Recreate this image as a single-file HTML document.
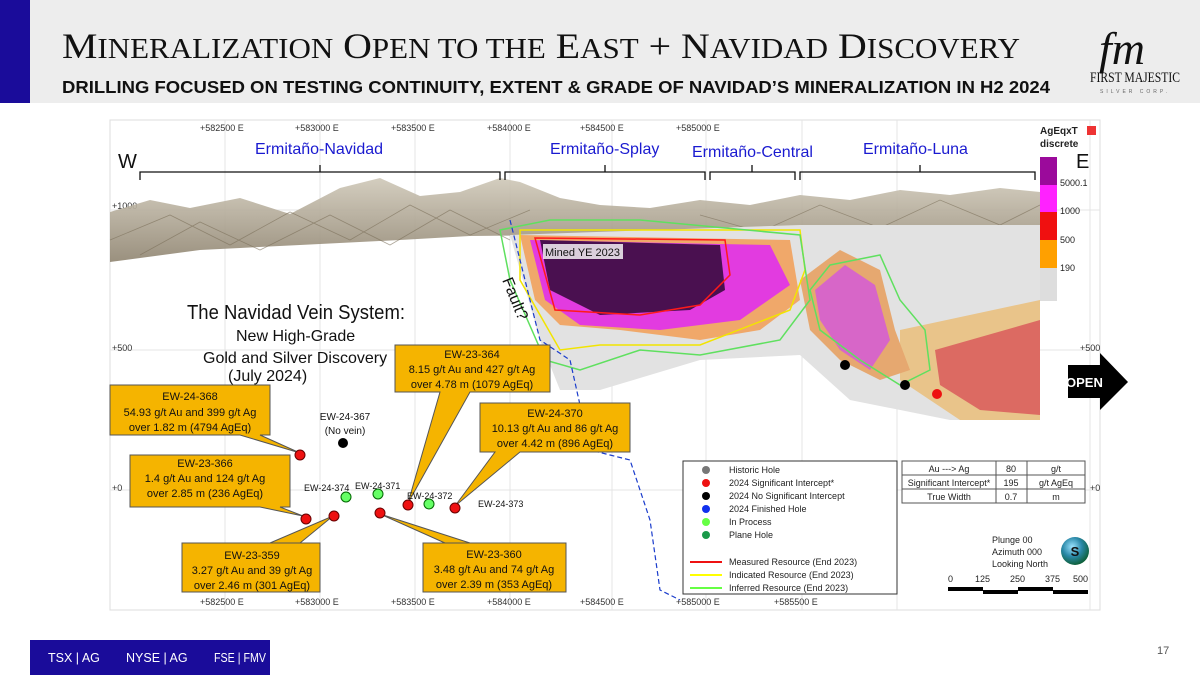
<!DOCTYPE html>
<html><head><meta charset="utf-8"><style>
body{margin:0;width:1200px;height:675px;overflow:hidden;background:#fff;font-family:"Liberation Sans",sans-serif}
</style></head><body>
<svg width="1200" height="675" xmlns="http://www.w3.org/2000/svg" font-family="Liberation Sans, sans-serif">
<defs>
<linearGradient id="mt" x1="0" y1="0" x2="0" y2="1"><stop offset="0" stop-color="#cfc8b8"/><stop offset="1" stop-color="#8f8470"/></linearGradient>
<radialGradient id="ball" cx="0.4" cy="0.35" r="0.7"><stop offset="0" stop-color="#9be3ff"/><stop offset="0.5" stop-color="#2a88a8"/><stop offset="1" stop-color="#0a5a2a"/></radialGradient>
</defs>
<rect x="30" y="0" width="1170" height="103" fill="#ededed"/>
<rect x="0" y="0" width="30" height="103" fill="#1a0c9a"/>
<text x="62" y="58" font-family="Liberation Serif, serif" font-size="36" fill="#111" textLength="958" lengthAdjust="spacingAndGlyphs">M<tspan font-size="28">INERALIZATION</tspan> O<tspan font-size="28">PEN TO THE</tspan> E<tspan font-size="28">AST</tspan> + N<tspan font-size="28">AVIDAD</tspan> D<tspan font-size="28">ISCOVERY</tspan></text>
<text x="62" y="93" font-size="17.5" font-weight="bold" fill="#111" textLength="988" lengthAdjust="spacingAndGlyphs">DRILLING FOCUSED ON TESTING CONTINUITY, EXTENT &amp; GRADE OF NAVIDAD’S MINERALIZATION IN H2 2024</text>
<text x="1122" y="64" font-family="Liberation Serif, serif" font-size="46" font-style="italic" text-anchor="middle" fill="#111">fm</text>
<text x="1090" y="82" font-family="Liberation Serif, serif" font-size="15" fill="#111" textLength="90" lengthAdjust="spacingAndGlyphs">FIRST MAJESTIC</text>
<text x="1135" y="93" font-size="5" text-anchor="middle" fill="#666" letter-spacing="3">SILVER CORP.</text>

<rect x="110" y="120" width="990" height="490" fill="#fff" stroke="#ddd"/>
<g stroke="#e4e4e4" stroke-width="1">
<line x1="225" y1="120" x2="225" y2="610"/><line x1="320" y1="120" x2="320" y2="610"/><line x1="415" y1="120" x2="415" y2="610"/><line x1="510" y1="120" x2="510" y2="610"/><line x1="612" y1="120" x2="612" y2="610"/><line x1="706" y1="120" x2="706" y2="610"/><line x1="802" y1="120" x2="802" y2="610"/><line x1="897" y1="120" x2="897" y2="610"/><line x1="1090" y1="120" x2="1090" y2="610"/>
<line x1="110" y1="210" x2="1100" y2="210"/><line x1="110" y1="350" x2="1100" y2="350"/><line x1="110" y1="490" x2="1100" y2="490"/>
</g>
<g font-size="9" fill="#333">
<text x="200" y="131">+582500 E</text><text x="295" y="131">+583000 E</text><text x="391" y="131">+583500 E</text><text x="487" y="131">+584000 E</text><text x="580" y="131">+584500 E</text><text x="676" y="131">+585000 E</text>
<text x="200" y="605">+582500 E</text><text x="295" y="605">+583000 E</text><text x="391" y="605">+583500 E</text><text x="487" y="605">+584000 E</text><text x="580" y="605">+584500 E</text><text x="676" y="605">+585000 E</text><text x="774" y="605">+585500 E</text>
<text x="112" y="209">+1000</text><text x="112" y="351">+500</text><text x="112" y="491">+0</text><text x="1080" y="351">+500</text><text x="1090" y="491">+0</text>
</g>
<path d="M110 212 L150 200 L190 208 L240 198 L290 214 L340 188 L380 178 L420 196 L460 192 L500 178 L520 182 L560 198 L600 205 L650 208 L700 200 L750 205 L800 195 L850 200 L900 190 L950 195 L1000 188 L1040 192 L1040 228 L800 232 L660 230 L560 235 L470 236 L400 240 L300 245 L200 250 L110 262 Z" fill="url(#mt)" opacity="0.9"/>
<g stroke="#7a6e58" stroke-width="0.8" fill="none" opacity="0.6">
<path d="M110 240 L170 215 L230 245 L290 212 L350 240 L410 205 L470 235 L530 210"/>
<path d="M140 255 L200 222 L260 250 L330 215 L390 245 L450 210 L510 240"/>
<path d="M700 215 L760 232 L820 205 L880 228 L940 200 L1000 225 L1040 205"/>
</g>
<path d="M510 235 L800 225 L1040 225 L1040 420 L950 420 L850 400 L800 355 L700 360 L600 390 L560 390 L540 340 Z" fill="#e2e2e2"/>
<path d="M900 330 L1040 300 L1040 420 L960 420 L900 380 Z" fill="#e9c48a"/>
<path d="M935 350 L1040 320 L1040 415 L980 410 L940 385 Z" fill="#d95a5a" opacity="0.85"/>
<path d="M800 280 L840 250 L880 270 L895 330 L910 370 L880 380 L840 360 L810 330 Z" fill="#e6a870"/>
<path d="M815 290 L845 265 L875 285 L890 340 L870 370 L840 350 L820 320 Z" fill="#d766c8"/>
<path d="M520 235 L790 240 L800 300 L760 330 L700 340 L620 330 L560 325 L535 300 Z" fill="#f0a86a"/>
<path d="M530 240 L770 245 L790 285 L740 320 L660 330 L580 325 L545 300 Z" fill="#e23be0"/>
<path d="M540 240 L720 245 L725 290 L690 310 L600 315 L550 290 Z" fill="#4a1050"/>
<path d="M520 230 L800 230 L805 270 L790 310 L700 345 L600 345 L560 350 L520 280 Z" fill="none" stroke="#f2e400" stroke-width="1.5"/>
<path d="M500 230 L550 220 L640 220 L800 235 L810 300 L780 340 L700 355 L640 350 L580 370 L545 360 L510 280 Z" fill="none" stroke="#5fe05f" stroke-width="1.5"/>
<path d="M535 238 L725 240 L730 275 L700 305 L640 315 L555 310 Z" fill="none" stroke="#ff1a1a" stroke-width="1.5"/>
<path d="M830 265 L880 255 L900 300 L925 330 L930 370 L900 385 L860 360 L820 330 L810 290 Z" fill="none" stroke="#5fe05f" stroke-width="1.5"/>
<rect x="543" y="244" width="80" height="15" fill="#fff" opacity="0.8"/>
<text x="545" y="256" font-size="11" fill="#111">Mined YE 2023</text>
<path d="M510 220 L540 340 L570 360 L590 450 L630 460 L650 520 L660 590 L680 600" fill="none" stroke="#1a3ccc" stroke-width="1.2" stroke-dasharray="5,3"/>
<text x="0" y="0" font-size="16" fill="#111" transform="translate(502,280) rotate(68)">Fault?</text>
<g font-size="16" fill="#1a1ad0">
<text x="255" y="154">Ermitaño-Navidad</text><text x="550" y="154">Ermitaño-Splay</text><text x="692" y="157">Ermitaño-Central</text><text x="863" y="154">Ermitaño-Luna</text>
</g>
<text x="118" y="168" font-size="20" fill="#111">W</text><text x="1076" y="168" font-size="20" fill="#111">E</text>
<g fill="none" stroke="#111" stroke-width="1.3">
<path d="M140 180 V172 H500 V180 M320 172 V165"/><path d="M505 180 V172 H705 V180 M605 172 V165"/><path d="M710 180 V172 H795 V180 M752 172 V165"/><path d="M800 180 V172 H1035 V180 M920 172 V165"/>
</g>
<text x="1040" y="134" font-size="10" font-weight="bold" fill="#222">AgEqxT</text><rect x="1087" y="126" width="9" height="9" fill="#e33"/>
<text x="1040" y="147" font-size="10" font-weight="bold" fill="#222">discrete</text>
<rect x="1040" y="157" width="17" height="28" fill="#9b0a9b"/><rect x="1040" y="185" width="17" height="27" fill="#ff22ff"/><rect x="1040" y="212" width="17" height="28" fill="#f01010"/><rect x="1040" y="240" width="17" height="28" fill="#ffa000"/><rect x="1040" y="268" width="17" height="33" fill="#ddd"/>
<g font-size="9" fill="#222"><text x="1060" y="186">5000.1</text><text x="1060" y="214">1000</text><text x="1060" y="243">500</text><text x="1060" y="271">190</text></g>
<text x="187" y="319" font-size="20" fill="#111" textLength="218" lengthAdjust="spacingAndGlyphs">The Navidad Vein System:</text>
<text x="236" y="341" font-size="16" fill="#111">New High-Grade</text>
<text x="203" y="363" font-size="16" fill="#111">Gold and Silver Discovery</text>
<text x="228" y="381" font-size="16" fill="#111">(July 2024)</text>
<path d="M1068 365 H1100 V353 L1128 382 L1100 410 V398 H1068 Z" fill="#000"/>
<text x="1066" y="387" font-size="13" font-weight="bold" fill="#fff">OPEN</text>
<circle cx="845" cy="365" r="5" fill="#000"/><circle cx="905" cy="385" r="5" fill="#000"/><circle cx="937" cy="394" r="5" fill="#e11"/>
<g fill="#f5b400" stroke="#555" stroke-width="1">
<path d="M395 345 H550 V392 H470 L408 503 L440 392 H395 Z"/>
<path d="M110 385 H270 V435 H260 L300 453 L240 435 H110 Z"/>
<path d="M480 403 H630 V452 H520 L455 506 L495 452 H480 Z"/>
<path d="M130 455 H290 V507 H280 L303 516 L260 507 H130 Z"/>
<path d="M182 543 H320 V592 H182 V543 L270 543 L333 516 L300 543 Z"/>
<path d="M423 543 H566 V592 H423 Z M470 543 L380 514 L445 543"/>
</g>
<g font-size="11" fill="#111" text-anchor="middle">
<text x="472" y="358">EW-23-364</text><text x="472" y="373">8.15 g/t Au and 427 g/t Ag</text><text x="472" y="388">over 4.78 m (1079 AgEq)</text>
<text x="190" y="400">EW-24-368</text><text x="190" y="416">54.93 g/t Au and 399 g/t Ag</text><text x="190" y="431">over 1.82 m (4794 AgEq)</text>
<text x="555" y="417">EW-24-370</text><text x="555" y="432">10.13 g/t Au and 86 g/t Ag</text><text x="555" y="447">over 4.42 m (896 AgEq)</text>
<text x="205" y="467">EW-23-366</text><text x="205" y="482">1.4 g/t Au and 124 g/t Ag</text><text x="205" y="497">over 2.85 m (236 AgEq)</text>
<text x="252" y="559">EW-23-359</text><text x="252" y="574">3.27 g/t Au and 39 g/t Ag</text><text x="252" y="589">over 2.46 m (301 AgEq)</text>
<text x="494" y="558">EW-23-360</text><text x="494" y="573">3.48 g/t Au and 74 g/t Ag</text><text x="494" y="588">over 2.39 m (353 AgEq)</text>
<text x="345" y="420" font-size="10">EW-24-367</text><text x="345" y="434" font-size="10">(No vein)</text>
</g>
<g font-size="9" fill="#111"><text x="304" y="491">EW-24-374</text><text x="355" y="489">EW-24-371</text><text x="407" y="499">EW-24-372</text><text x="478" y="507">EW-24-373</text></g>
<circle cx="300" cy="455" r="5" fill="#e11" stroke="#600"/><circle cx="343" cy="443" r="5" fill="#000"/>
<circle cx="408" cy="505" r="5" fill="#e11" stroke="#600"/><circle cx="455" cy="508" r="5" fill="#e11" stroke="#600"/>
<circle cx="306" cy="519" r="5" fill="#e11" stroke="#600"/><circle cx="334" cy="516" r="5" fill="#e11" stroke="#600"/><circle cx="380" cy="513" r="5" fill="#e11" stroke="#600"/>
<circle cx="346" cy="497" r="5" fill="#6f6" stroke="#060"/><circle cx="378" cy="494" r="5" fill="#6f6" stroke="#060"/><circle cx="429" cy="504" r="5" fill="#6f6" stroke="#060"/>
<rect x="683" y="461" width="214" height="133" fill="#fff" stroke="#333"/>
<g font-size="9" fill="#222">
<circle cx="706" cy="470" r="4" fill="#777"/><text x="729" y="473">Historic Hole</text>
<circle cx="706" cy="483" r="4" fill="#e11"/><text x="729" y="486">2024 Significant Intercept*</text>
<circle cx="706" cy="496" r="4" fill="#000"/><text x="729" y="499">2024 No Significant Intercept</text>
<circle cx="706" cy="509" r="4" fill="#1030ee"/><text x="729" y="512">2024 Finished Hole</text>
<circle cx="706" cy="522" r="4" fill="#6f4"/><text x="729" y="525">In Process</text>
<circle cx="706" cy="535" r="4" fill="#1a9a4a"/><text x="729" y="538">Plane Hole</text>
<line x1="690" y1="562" x2="722" y2="562" stroke="#e11" stroke-width="2"/><text x="729" y="565">Measured Resource (End 2023)</text>
<line x1="690" y1="575" x2="722" y2="575" stroke="#ff0" stroke-width="2"/><text x="729" y="578">Indicated Resource (End 2023)</text>
<line x1="690" y1="588" x2="722" y2="588" stroke="#6f4" stroke-width="2"/><text x="729" y="591">Inferred Resource (End 2023)</text>
</g>
<g fill="#fff" stroke="#555"><rect x="902" y="461" width="94" height="14"/><rect x="996" y="461" width="31" height="14"/><rect x="1027" y="461" width="58" height="14"/>
<rect x="902" y="475" width="94" height="14"/><rect x="996" y="475" width="31" height="14"/><rect x="1027" y="475" width="58" height="14"/>
<rect x="902" y="489" width="94" height="14"/><rect x="996" y="489" width="31" height="14"/><rect x="1027" y="489" width="58" height="14"/></g>
<g font-size="9" fill="#222" text-anchor="middle"><text x="949" y="472">Au ---&gt; Ag</text><text x="1011" y="472">80</text><text x="1056" y="472">g/t</text>
<text x="949" y="486">Significant Intercept*</text><text x="1011" y="486">195</text><text x="1056" y="486">g/t AgEq</text>
<text x="949" y="500">True Width</text><text x="1011" y="500">0.7</text><text x="1056" y="500">m</text></g>
<g font-size="9" fill="#222"><text x="992" y="543">Plunge 00</text><text x="992" y="555">Azimuth 000</text><text x="992" y="567">Looking North</text>
<text x="948" y="582">0</text><text x="975" y="582">125</text><text x="1010" y="582">250</text><text x="1045" y="582">375</text><text x="1073" y="582">500</text></g>
<circle cx="1075" cy="551" r="14" fill="url(#ball)"/><text x="1075" y="556" font-size="13" font-weight="bold" text-anchor="middle" fill="#111">S</text>
<g fill="#000"><rect x="948" y="587" width="35" height="4"/><rect x="983" y="590" width="35" height="4"/><rect x="1018" y="587" width="35" height="4"/><rect x="1053" y="590" width="35" height="4"/></g>
<rect x="30" y="640" width="240" height="35" fill="#1a0c9a"/>
<text x="48" y="662" font-size="12.5" fill="#fff">TSX | AG</text><text x="126" y="662" font-size="12.5" fill="#fff">NYSE | AG</text><text x="214" y="662" font-size="12.5" fill="#fff" textLength="52" lengthAdjust="spacingAndGlyphs">FSE | FMV</text>
<text x="1157" y="654" font-size="11" fill="#555">17</text>
</svg>
</body></html>
